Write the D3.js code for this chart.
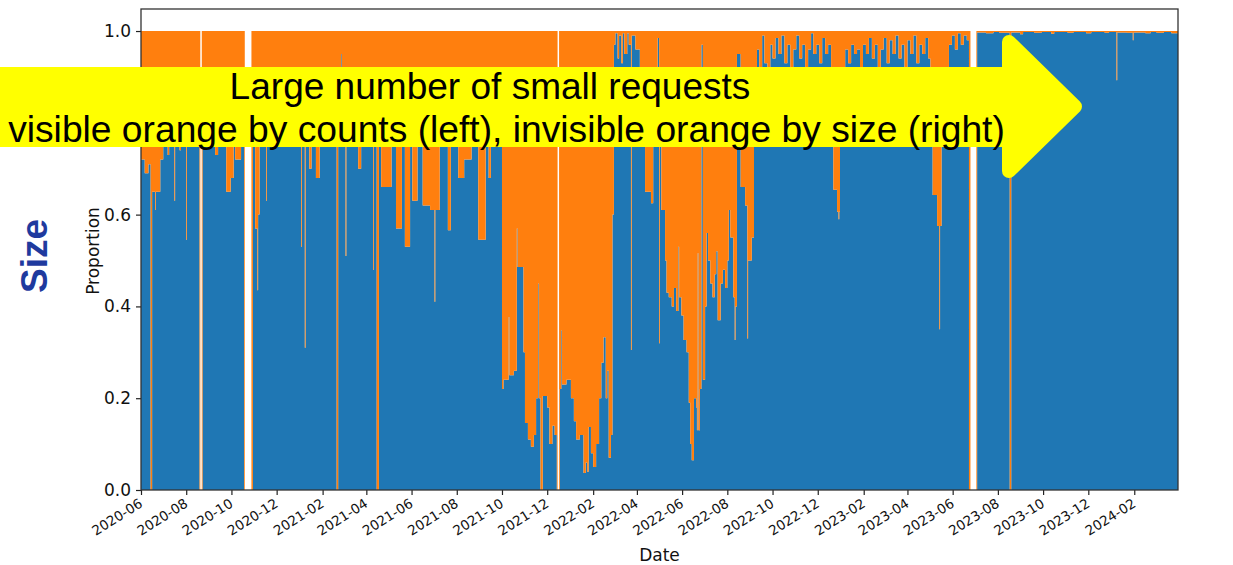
<!DOCTYPE html>
<html>
<head>
<meta charset="utf-8">
<script src="https://cdn.jsdelivr.net/npm/d3@7"></script>
<style>
  html, body { margin: 0; padding: 0; background: #fff; }
  svg { display: block; }
</style>
</head>
<body>
<svg id="chart" width="1233" height="565"></svg>
<script>
// Daily share of traffic volume (bytes) carried by large requests.
// Each value holds until the next listed date; null marks days with no data.
// The remainder (1 - share) is the small-request share.
const dates = [
  "2020-06-01","2020-06-06","2020-06-11","2020-06-14","2020-06-16","2020-06-20","2020-06-21","2020-06-27",
  "2020-07-01","2020-07-07","2020-07-09","2020-07-16","2020-07-17","2020-07-23","2020-07-25",
  "2020-08-01","2020-08-02","2020-08-11","2020-08-14","2020-08-19","2020-08-20","2020-08-22","2020-08-23","2020-08-31",
  "2020-09-09","2020-09-13","2020-09-24","2020-09-30",
  "2020-10-04","2020-10-06","2020-10-14","2020-10-18","2020-10-19","2020-10-28","2020-10-30",
  "2020-11-02","2020-11-05","2020-11-06","2020-11-08","2020-11-17","2020-11-18","2020-11-28",
  "2020-12-08","2020-12-21","2020-12-26",
  "2021-01-03","2021-01-04","2021-01-08","2021-01-09","2021-01-14","2021-01-17","2021-01-23","2021-01-28",
  "2021-02-06","2021-02-20","2021-02-22","2021-02-26","2021-02-27",
  "2021-03-04","2021-03-05","2021-03-21","2021-03-25",
  "2021-04-10","2021-04-11","2021-04-15","2021-04-18","2021-04-21",
  "2021-05-05","2021-05-11","2021-05-19","2021-05-23","2021-05-30",
  "2021-06-02","2021-06-09","2021-06-16","2021-06-26",
  "2021-07-02","2021-07-03","2021-07-09","2021-07-20","2021-07-24",
  "2021-08-03","2021-08-11","2021-08-21","2021-08-30",
  "2021-09-09","2021-09-13","2021-09-16",
  "2021-10-01","2021-10-03","2021-10-10","2021-10-11","2021-10-17","2021-10-21","2021-10-22","2021-10-30",
  "2021-11-01","2021-11-05","2021-11-09","2021-11-13","2021-11-16","2021-11-19","2021-11-20","2021-11-22","2021-11-25",
  "2021-12-01","2021-12-04","2021-12-08","2021-12-11","2021-12-14","2021-12-15","2021-12-17","2021-12-18","2021-12-20","2021-12-21","2021-12-27",
  "2022-01-02","2022-01-06","2022-01-09","2022-01-14","2022-01-19","2022-01-22","2022-01-24","2022-01-26","2022-01-29",
  "2022-02-01","2022-02-05","2022-02-09","2022-02-12","2022-02-15","2022-02-18","2022-02-20","2022-02-22","2022-02-25","2022-02-27",
  "2022-03-01","2022-03-03","2022-03-06","2022-03-08","2022-03-11","2022-03-13","2022-03-15","2022-03-19","2022-03-21","2022-03-24","2022-03-25","2022-03-28","2022-03-30",
  "2022-04-05","2022-04-12","2022-04-20","2022-04-23","2022-04-26","2022-04-29",
  "2022-05-01","2022-05-02","2022-05-04","2022-05-09","2022-05-11","2022-05-14","2022-05-18","2022-05-21","2022-05-24","2022-05-27","2022-05-28","2022-05-31",
  "2022-06-03","2022-06-07","2022-06-10","2022-06-12","2022-06-14","2022-06-17","2022-06-20","2022-06-21","2022-06-22","2022-06-23","2022-06-25","2022-06-27","2022-06-29",
  "2022-07-02","2022-07-04","2022-07-06","2022-07-09","2022-07-12","2022-07-15","2022-07-17","2022-07-19","2022-07-23","2022-07-26","2022-07-29",
  "2022-08-01","2022-08-03","2022-08-05","2022-08-09","2022-08-11","2022-08-12","2022-08-14","2022-08-19","2022-08-25","2022-08-28","2022-08-29",
  "2022-09-03","2022-09-06","2022-09-10","2022-09-13","2022-09-17","2022-09-20","2022-09-24","2022-09-28",
  "2022-10-01","2022-10-05","2022-10-09","2022-10-13","2022-10-17","2022-10-21","2022-10-25","2022-10-29",
  "2022-11-02","2022-11-06","2022-11-10","2022-11-14","2022-11-18","2022-11-22","2022-11-25","2022-11-29",
  "2022-12-03","2022-12-07","2022-12-11","2022-12-15","2022-12-19","2022-12-22","2022-12-27","2022-12-29","2022-12-30","2022-12-31",
  "2023-01-04","2023-01-07","2023-01-11","2023-01-15","2023-01-19","2023-01-23","2023-01-27","2023-01-31",
  "2023-02-04","2023-02-08","2023-02-12","2023-02-16","2023-02-20","2023-02-24","2023-02-28",
  "2023-03-04","2023-03-08","2023-03-12","2023-03-16","2023-03-20","2023-03-24","2023-03-28",
  "2023-04-01","2023-04-05","2023-04-09","2023-04-13","2023-04-17","2023-04-21","2023-04-25","2023-04-29",
  "2023-05-02","2023-05-05","2023-05-11","2023-05-14","2023-05-15","2023-05-17","2023-05-22","2023-05-27","2023-05-31",
  "2023-06-04","2023-06-08","2023-06-12","2023-06-16","2023-06-20","2023-06-23","2023-06-25",
  "2023-07-03","2023-07-04","2023-07-16","2023-07-26",
  "2023-08-03","2023-08-17","2023-08-19","2023-08-31",
  "2023-09-04","2023-09-19","2023-09-29",
  "2023-10-12","2023-10-16",
  "2023-11-03","2023-11-11","2023-11-28",
  "2023-12-05","2023-12-23","2023-12-29",
  "2024-01-08","2024-01-09","2024-01-22","2024-01-30","2024-01-31",
  "2024-02-16","2024-02-23",
  "2024-03-02","2024-03-12","2024-03-22"
];

const largeShare = [
  0.72,0.69,0.71,0,0.65,0.61,0.65,0.72,
  0.86,0.73,0.86,0.63,0.84,0.74,0.87,
  0.545,0.85,0.80,0.88,0,null,0,0.88,0.82,
  0.73,0.87,0.65,0.68,
  0.80,0.72,0.84,0,null,0,0.80,
  0.57,0.435,0.60,0.85,0.63,0.87,0.82,
  0.89,0.75,0.86,
  0.53,0.85,0.31,0.84,0.70,0.86,0.68,0.88,
  0.83,0,0.86,0.95,0.87,
  0.51,0.86,0.70,0.84,
  0.48,0.88,0,0.85,0.66,
  0.85,0.57,0.80,0.53,0.82,
  0.63,0.84,0.62,0.61,
  0.41,0.61,0.83,0.566,0.82,
  0.68,0.72,0.84,0.545,
  0.83,0.68,0.86,
  0.22,0.24,0.377,0.25,0.26,0.57,0.486,0.30,
  0.146,0.11,0.094,0.12,0.20,0.45,0.20,0,0.205,
  0.18,0.10,0.14,0.12,0,null,0,0.22,0.348,0.23,0.24,
  0.20,0.15,0.11,0.12,0.037,0.06,0.04,0.137,0.08,
  0.05,0.10,0.20,0.277,0.333,0.20,0.26,0.07,0.12,0.60,
  0.97,0.995,0.94,0.99,0.93,0.995,0.95,0.995,0.97,0.305,0.99,0.99,0.96,
  0.88,0.65,0.625,0.86,0.90,0.985,
  0.32,0.85,0.61,0.50,0.43,0.42,0.40,0.44,0.39,0.53,0.42,0.38,
  0.327,0.30,0.19,0.10,0.065,0.20,0.18,0.13,0.516,0.13,0.22,0.97,0.24,
  0.40,0.56,0.50,0.45,0.42,0.47,0.52,0.37,0.45,0.48,0.44,
  0.50,0.61,0.55,0.42,0.327,0.40,0.95,0.66,0.62,0.33,0.50,
  0.55,0.90,0.96,0.91,0.99,0.93,0.89,0.97,
  0.94,0.985,0.95,0.99,0.93,0.97,0.90,0.96,
  0.99,0.94,0.97,0.92,0.96,0.995,0.95,0.97,
  0.93,0.985,0.95,0.97,0.91,0.654,0.606,0.59,0.606,0.88,
  0.90,0.96,0.93,0.97,0.95,0.96,0.92,0.97,
  0.95,0.985,0.94,0.97,0.90,0.96,0.985,
  0.93,0.98,0.95,0.99,0.94,0.97,0.92,
  0.98,0.95,0.99,0.93,0.97,0.95,0.985,0.94,
  0.90,0.643,0.575,0.35,0.575,0.88,0.90,0.97,0.99,
  0.96,0.995,0.97,0.99,0.98,0,null,
  0,0.997,0.995,0.998,
  0.996,0,0.997,0.993,
  0.998,0.996,0.998,
  0.994,0.998,
  0.996,0.998,0.995,
  0.998,0.996,0.998,
  0.893,0.997,0.996,0.98,0.997,
  0.995,0.998,
  0.996,0.998,0.995
];
const rangeEnd = "2024-03-31";

const yTicks = [0, 0.2, 0.4, 0.6, 0.8, 1.0];
const xTickLabels = [
  "2020-06","2020-08","2020-10","2020-12","2021-02","2021-04","2021-06","2021-08",
  "2021-10","2021-12","2022-02","2022-04","2022-06","2022-08","2022-10","2022-12",
  "2023-02","2023-04","2023-06","2023-08","2023-10","2023-12","2024-02"
];
const bannerLines = [
  "Large number of small requests",
  "visible orange by counts (left), invisible orange by size (right)"
];
const sideLabel = "Size";

// ---- layout ----
const plot = { left: 141, right: 1178, top: 9, bottom: 490 };
const banner = { top: 67, bottom: 147, headLeft: 1002, headTop: 35, headBottom: 178, tip: 1082 };
const BLUE = "#1f77b4", ORANGE = "#ff7f0e";
const tickFont = "'DejaVu Sans', Verdana, sans-serif";

const svg = d3.select("#chart");
const parseDay = d3.utcParse("%Y-%m-%d");
const parseMonth = d3.utcParse("%Y-%m");

const x = d3.scaleUtc()
  .domain([parseDay(dates[0]), parseDay(rangeEnd)])
  .range([plot.left, plot.right]);
const y = d3.scaleLinear()
  .domain([0, 1.048])
  .range([plot.bottom, plot.top]);

// Split the series into contiguous runs (no-data days break a run).
const runs = [];
let current = null;
dates.forEach((ds, i) => {
  const t = parseDay(ds), v = largeShare[i];
  if (v == null) {
    if (current) { current.push({ t, v: current[current.length - 1].v }); runs.push(current); current = null; }
  } else {
    if (!current) current = [];
    current.push({ t, v });
  }
});
if (current) { current.push({ t: parseDay(rangeEnd), v: current[current.length - 1].v }); runs.push(current); }

svg.append("defs").append("clipPath").attr("id", "plotClip")
  .append("rect")
  .attr("x", plot.left).attr("y", plot.top)
  .attr("width", plot.right - plot.left).attr("height", plot.bottom - plot.top);

const largeArea = d3.area().curve(d3.curveStepAfter)
  .x(d => x(d.t)).y0(y(0)).y1(d => y(d.v));
const smallArea = d3.area().curve(d3.curveStepAfter)
  .x(d => x(d.t)).y0(d => y(d.v)).y1(y(1));

const marks = svg.append("g").attr("clip-path", "url(#plotClip)");
marks.selectAll("path.large").data(runs).join("path")
  .attr("class", "large").attr("d", largeArea).attr("fill", BLUE);
marks.selectAll("path.small").data(runs).join("path")
  .attr("class", "small").attr("d", smallArea).attr("fill", ORANGE);

// ---- axes ----
const yAxis = svg.append("g")
  .attr("transform", `translate(${plot.left},0)`)
  .call(d3.axisLeft(y).tickValues(yTicks).tickFormat(d3.format(".1f")).tickSize(5).tickPadding(5));
yAxis.select(".domain").remove();
yAxis.selectAll("line").attr("stroke", "#222").attr("stroke-width", 1.2);
yAxis.selectAll("text").attr("font-family", tickFont).attr("font-size", 17).attr("fill", "#111");
// labels lying under the annotation banner are covered, so they are not drawn
yAxis.selectAll(".tick").filter(d => y(d) > banner.top && y(d) < banner.bottom).select("text").remove();

const xAxis = svg.append("g")
  .attr("transform", `translate(0,${plot.bottom})`)
  .call(d3.axisBottom(x).tickValues(xTickLabels.map(parseMonth)).tickFormat(d3.utcFormat("%Y-%m")).tickSize(5).tickPadding(0));
xAxis.select(".domain").remove();
xAxis.selectAll("line").attr("stroke", "#222").attr("stroke-width", 1.2);
xAxis.selectAll("text")
  .attr("font-family", tickFont).attr("font-size", 13.5).attr("fill", "#111")
  .attr("text-anchor", "end")
  .attr("dy", null)
  .attr("y", 0)
  .attr("transform", "translate(2,16) rotate(-32)");

// frame
svg.append("rect")
  .attr("x", plot.left).attr("y", plot.top)
  .attr("width", plot.right - plot.left).attr("height", plot.bottom - plot.top)
  .attr("fill", "none").attr("stroke", "#333").attr("stroke-width", 1.3);

svg.append("text")
  .attr("x", (plot.left + plot.right) / 2).attr("y", 561)
  .attr("text-anchor", "middle")
  .attr("font-family", tickFont).attr("font-size", 17).attr("fill", "#111")
  .text("Date");

svg.append("text")
  .attr("transform", `translate(99,251) rotate(-90)`)
  .attr("text-anchor", "middle")
  .attr("font-family", tickFont).attr("font-size", 17).attr("fill", "#111")
  .text("Proportion");

// ---- annotation arrow ----
const r = 7;
const arrowPts = [
  [-30, banner.top + r], [banner.headLeft + r, banner.top + r], [banner.headLeft + r, banner.headTop + r],
  [banner.tip - r, (banner.headTop + banner.headBottom) / 2],
  [banner.headLeft + r, banner.headBottom - r], [banner.headLeft + r, banner.bottom - r], [-30, banner.bottom - r]
];
svg.append("path")
  .attr("d", d3.line()(arrowPts) + "Z")
  .attr("fill", "#ffff00").attr("stroke", "#ffff00")
  .attr("stroke-width", 2 * r).attr("stroke-linejoin", "round");

const bannerFont = "'Liberation Sans', Arial, Helvetica, sans-serif";
const bannerSpec = [
  { cx: 490, base: 99, width: 521 },
  { cx: 506.5, base: 142, width: 997 }
];
bannerLines.forEach((line, i) => {
  const s = bannerSpec[i];
  const t = svg.append("text")
    .attr("x", s.cx).attr("y", s.base)
    .attr("text-anchor", "middle")
    .attr("font-family", bannerFont).attr("font-size", 30).attr("fill", "#000")
    .text(line);
  const w = t.node().getComputedTextLength();
  t.attr("font-size", 30 * s.width / w);
});

svg.append("text")
  .attr("transform", "translate(47,256) rotate(-90)")
  .attr("text-anchor", "middle")
  .attr("font-family", bannerFont).attr("font-weight", "bold")
  .attr("font-size", 37).attr("fill", "#1f3a9e")
  .text(sideLabel);
</script>
</body>
</html>
